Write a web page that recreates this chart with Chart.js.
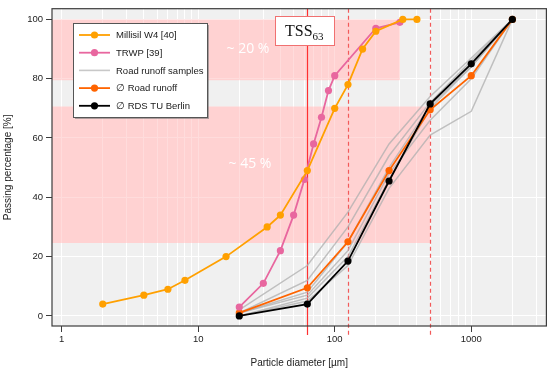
<!DOCTYPE html>
<html>
<head>
<meta charset="utf-8">
<script src="https://cdn.jsdelivr.net/npm/chart.js@4/dist/chart.umd.min.js"></script>
<style>
html,body{margin:0;padding:0;background:#fff;}
#wrap{position:relative;width:550px;height:374px;}
</style>
</head>
<body>
<div id="wrap"><canvas id="c" width="550" height="374"></canvas></div>
<script>
// ---- data ----
const millisilX = [2, 4, 6, 8, 16, 32, 40, 63, 100, 125, 160, 200, 315, 400];
const millisilY = [4, 7, 9, 12, 20, 30, 34, 49, 70, 78, 90, 96, 100, 100];

const trwpX = [20, 30, 40, 50, 60, 70, 80, 90, 100, 200, 300];
const trwpY = [3, 11, 22, 34, 46, 58, 67, 76, 81, 97, 99];

const sieveX = [20, 63, 125, 250, 500, 1000, 2000];
const sample1 = [2, 17, 35, 58, 74, 87, 100];
const sample2 = [1, 12, 30, 54, 72, 86, 100];
const sample3 = [1, 8, 25, 50, 71, 84, 100];
const sample4 = [0, 6, 20, 46, 70, 84, 100];
const sample5 = [0, 5, 17, 43, 61, 69, 100];
const sample6 = [1, 7, 22, 48, 66, 80, 100];

const roadAvgY = [1, 9.5, 25, 49, 69.5, 81, 100];
const rdsY = [0, 4, 18.5, 45.5, 71.5, 85, 100];

const yTicks = [0, 20, 40, 60, 80, 100];
const xTickLabels = ['1', '10', '100', '1000'];

const bandTop = {x0: 0.85, x1: 300, y0: 79.5, y1: 100, label: '~ 20 %'};
const bandLow = {x0: 0.85, x1: 500, y0: 24.6, y1: 70.6, label: '~ 45 %'};
const vLines = [{x: 63, dash: [], color: '#FF3030'}, {x: 125, dash: [4, 3], color: '#F25A5A'}, {x: 500, dash: [4, 3], color: '#F25A5A'}];

const labels = {
  millisil: 'Millisil W4 [40]',
  trwp: 'TRWP [39]',
  samples: 'Road runoff samples',
  road: '\u2205 Road runoff',
  rds: '\u2205 RDS TU Berlin'
};

// ---- colors ----
const C_MILL = '#FFA000';
const C_TRWP = '#E8679F';
const C_GREY = 'rgba(175,175,175,0.75)';
const C_ROAD = '#FF6400';
const C_RDS = '#000000';

const pts = (xs, ys) => xs.map((x, i) => ({x: x, y: ys[i]}));

function lineDs(label, xs, ys, color, withPts, width) {
  return {
    label: label,
    data: pts(xs, ys),
    borderColor: color,
    backgroundColor: color,
    borderWidth: width,
    pointRadius: withPts ? 3.6 : 0,
    pointHoverRadius: withPts ? 3.6 : 0,
    pointBorderWidth: 0,
    tension: 0,
    fill: false
  };
}

const samples = [sample1, sample2, sample3, sample4, sample5, sample6];
const datasets = [
  lineDs(labels.millisil, millisilX, millisilY, C_MILL, true, 1.8),
  lineDs(labels.trwp, trwpX, trwpY, C_TRWP, true, 1.8),
  lineDs(labels.rds, sieveX, rdsY, C_RDS, true, 1.8),
  lineDs(labels.road, sieveX, roadAvgY, C_ROAD, true, 1.8)
].concat(samples.map(s => lineDs(labels.samples, sieveX, s, C_GREY, false, 1.5)));

const legendItems = [
  {label: labels.millisil, color: C_MILL, pt: true},
  {label: labels.trwp, color: C_TRWP, pt: true},
  {label: labels.samples, color: '#C8C8C8', pt: false},
  {label: labels.road, color: C_ROAD, pt: true},
  {label: labels.rds, color: C_RDS, pt: true}
];

function isPow10(v) {
  const l = Math.log10(v);
  return Math.abs(l - Math.round(l)) < 1e-9;
}

const decor = {
  id: 'decor',
  beforeDraw(chart) {
    const {ctx, chartArea: a, scales} = chart;
    const xs = scales.x, ys = scales.y;
    ctx.save();
    ctx.fillStyle = '#F0F0F0';
    ctx.fillRect(a.left, a.top, a.width, a.height);
    ctx.fillStyle = '#FFEAEA';
    [bandTop, bandLow].forEach(b => {
      const x0 = Math.max(a.left, xs.getPixelForValue(b.x0));
      const x1 = xs.getPixelForValue(b.x1);
      const y0 = ys.getPixelForValue(b.y1);
      const y1 = ys.getPixelForValue(b.y0);
      ctx.fillRect(x0, y0, x1 - x0, y1 - y0);
    });
    ctx.restore();
  },
  beforeDatasetsDraw(chart) {
    const {ctx, chartArea: a, scales} = chart;
    const xs = scales.x, ys = scales.y;
    ctx.save();
    ctx.fillStyle = 'rgba(255,185,185,0.5)';
    [bandTop, bandLow].forEach(b => {
      const x0 = Math.max(a.left, xs.getPixelForValue(b.x0));
      const x1 = xs.getPixelForValue(b.x1);
      const y0 = ys.getPixelForValue(b.y1);
      const y1 = ys.getPixelForValue(b.y0);
      ctx.fillRect(x0, y0, x1 - x0, y1 - y0);
    });
    // band labels
    ctx.fillStyle = '#FFFFFF';
    ctx.font = '14px "Open Sans"';
    ctx.textAlign = 'center';
    ctx.textBaseline = 'middle';
    ctx.fillText(bandTop.label, 248, 49);
    ctx.fillText(bandLow.label, 250, 164);
    // vertical reference lines
    ctx.lineWidth = 1.2;
    vLines.forEach(v => {
      const x = Math.round(xs.getPixelForValue(v.x)) + 0.5;
      ctx.strokeStyle = v.color;
      ctx.setLineDash(v.dash);
      ctx.beginPath();
      ctx.moveTo(x, a.top);
      ctx.lineTo(x, a.bottom + 9);
      ctx.stroke();
    });
    ctx.setLineDash([]);
    ctx.restore();
  },
  afterDraw(chart) {
    const {ctx, chartArea: a} = chart;
    ctx.save();
    // frame
    ctx.strokeStyle = '#3C3C3C';
    ctx.lineWidth = 1.2;
    ctx.strokeRect(a.left, a.top, a.width, a.height);

    // TSS63 box
    ctx.fillStyle = '#FFFFFF';
    ctx.fillRect(275, 16, 59, 29);
    ctx.strokeStyle = '#F07070';
    ctx.lineWidth = 1;
    ctx.strokeRect(275.5, 16.5, 59, 29);
    ctx.fillStyle = '#111';
    ctx.textAlign = 'left';
    ctx.textBaseline = 'alphabetic';
    ctx.font = '16px "Liberation Serif"';
    ctx.fillText('TSS', 285, 35.5);
    const w = ctx.measureText('TSS').width;
    ctx.font = '11px "Liberation Serif"';
    ctx.fillText('63', 285 + w, 39.5);

    // legend box
    const lx = 73, ly = 23, lw = 134, lh = 94;
    ctx.fillStyle = 'rgba(120,120,120,0.6)';
    ctx.fillRect(lx + 2, ly + 2, lw, lh);
    ctx.fillStyle = '#FFFFFF';
    ctx.fillRect(lx, ly, lw, lh);
    ctx.strokeStyle = '#555';
    ctx.lineWidth = 1;
    ctx.strokeRect(lx + 0.5, ly + 0.5, lw, lh);
    ctx.font = '9.5px "Liberation Sans"';
    ctx.textBaseline = 'middle';
    legendItems.forEach((it, i) => {
      const y = 35 + i * 17.7;
      ctx.strokeStyle = it.color;
      ctx.lineWidth = it.pt ? 1.8 : 1.6;
      ctx.beginPath();
      ctx.moveTo(79, y);
      ctx.lineTo(110, y);
      ctx.stroke();
      if (it.pt) {
        ctx.fillStyle = it.color;
        ctx.beginPath();
        ctx.arc(94.5, y, 3.6, 0, Math.PI * 2);
        ctx.fill();
      }
      ctx.fillStyle = '#1A1A1A';
      ctx.fillText(it.label, 116, y + 0.5);
    });
    ctx.restore();
  }
};

new Chart(document.getElementById('c'), {
  type: 'line',
  data: {datasets: datasets},
  plugins: [decor],
  options: {
    responsive: false,
    devicePixelRatio: 1,
    animation: false,
    events: [],
    layout: {padding: {top: 3, right: 3, left: 0, bottom: 0}},
    plugins: {legend: {display: false}, tooltip: {enabled: false}},
    scales: {
      x: {
        type: 'logarithmic',
        min: 0.85,
        max: 3550,
        afterFit(s) { s.height = 48; },
        afterBuildTicks(s) {
          const t = [];
          for (let k = 0; k <= 3; k++) {
            for (let m = 1; m <= 9; m++) {
              const v = m * Math.pow(10, k);
              if (v <= 3550) t.push({value: v, major: m === 1});
            }
          }
          s.ticks = t;
        },
        border: {display: false},
        grid: {
          color: '#FFFFFF',
          lineWidth: 1,
          drawTicks: true,
          tickLength: 6,
          tickColor: (c) => (c.tick && isPow10(c.tick.value)) ? '#3C3C3C' : 'rgba(0,0,0,0)',
          tickWidth: 1
        },
        ticks: {
          autoSkip: false,
          maxRotation: 0,
          minRotation: 0,
          padding: 2,
          color: '#222',
          font: {family: '"Liberation Sans"', size: 9.5},
          callback: (v) => {
            if (!isPow10(v)) return '';
            const i = Math.round(Math.log10(v));
            return xTickLabels[i] !== undefined ? xTickLabels[i] : '';
          }
        },
        title: {
          display: true,
          text: 'Particle diameter [\u00b5m]',
          color: '#222',
          font: {family: '"Liberation Sans"', size: 10},
          padding: {top: 0, bottom: 5}
        }
      },
      y: {
        type: 'linear',
        min: -3.4,
        max: 103.6,
        afterFit(s) { s.width = 52; },
        afterBuildTicks(s) { s.ticks = yTicks.map(v => ({value: v})); },
        border: {display: false},
        grid: {
          color: '#FFFFFF',
          lineWidth: 1,
          drawTicks: true,
          tickLength: 6,
          tickColor: '#3C3C3C',
          tickWidth: 1
        },
        ticks: {
          padding: 3,
          color: '#222',
          font: {family: '"Liberation Sans"', size: 9.5}
        },
        title: {
          display: true,
          text: 'Passing percentage [%]',
          color: '#222',
          font: {family: '"Liberation Sans"', size: 10},
          padding: {top: 2, bottom: 0}
        }
      }
    }
  }
});
</script>
</body>
</html>
